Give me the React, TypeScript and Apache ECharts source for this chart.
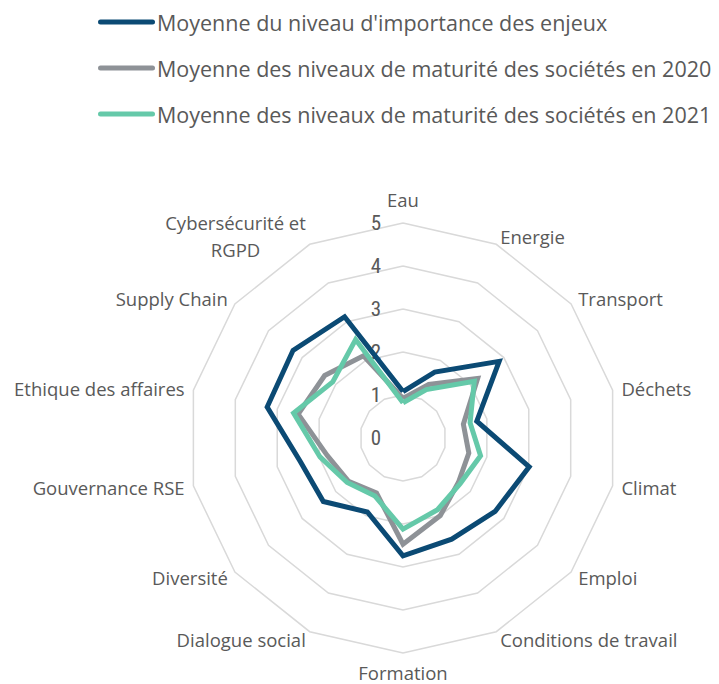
import React, { useEffect, useRef } from "react";
import * as echarts from "echarts";

// Indicators listed clockwise from the top, as in the reference
const indicatorNames = [
  "Eau",
  "Energie",
  "Transport",
  "Déchets",
  "Climat",
  "Emploi",
  "Conditions de travail",
  "Formation",
  "Dialogue social",
  "Diversité",
  "Gouvernance RSE",
  "Ethique des affaires",
  "Supply Chain",
  "Cybersécurité et RGPD",
];

const axisMin = 0;
const axisMax = 5;
const axisSplits = 5;

const seriesNames = [
  "Moyenne du niveau d'importance des enjeux",
  "Moyenne des niveaux de maturité des sociétés en 2020",
  "Moyenne des niveaux de maturité des sociétés en 2021",
];

const importance = [1.08, 1.7, 2.86, 1.76, 3.01, 2.74, 2.61, 2.74, 1.91, 2.37, 2.45, 3.24, 3.27, 3.13];
const maturity2020 = [0.92, 1.38, 2.22, 1.44, 1.57, 1.65, 2.0, 2.47, 1.42, 1.62, 1.81, 2.5, 2.33, 2.12];
const maturity2021 = [0.82, 1.25, 2.12, 1.6, 1.85, 1.7, 1.85, 2.12, 1.5, 1.66, 1.98, 2.61, 2.09, 2.54];

const seriesColors = ["#0b4a74", "#8e9297", "#65c9a9"];

// ECharts places radar indicators counter-clockwise; reorder to get clockwise layout
const n = indicatorNames.length;
const order = [0, ...Array.from({ length: n - 1 }, (_, k) => n - 1 - k)];
const reorder = <T,>(arr: T[]): T[] => order.map((i) => arr[i]);

const textGray = "#595959";
const nameFont = 18.5;

export default function App() {
  const ref = useRef<HTMLDivElement>(null);
  useEffect(() => {
    if (!ref.current) return;
    const chart = echarts.init(ref.current, undefined, { renderer: "svg" });
    const values = [importance, maturity2020, maturity2021];
    chart.setOption({
      animation: false,
      backgroundColor: "#ffffff",
      legend: {
        orient: "vertical",
        left: 93,
        top: 6,
        itemWidth: 57,
        itemHeight: 5,
        itemGap: 24,
        selectedMode: false,
        icon: "path://M2.5,0 L54.5,0 A2.5,2.5 0 0 1 54.5,5 L2.5,5 A2.5,2.5 0 0 1 2.5,0 Z",
        data: seriesNames,
        textStyle: { color: textGray, fontFamily: "Open Sans", fontSize: 21.5, padding: [0, 0, 0, -3] },
      },
      radar: {
        center: [403, 438],
        radius: 215,
        startAngle: 90,
        splitNumber: axisSplits,
        shape: "polygon",
        nameGap: 9,
        axisName: {
          color: textGray,
          fontFamily: "Open Sans",
          fontSize: nameFont,
          formatter: (v: string) =>
            v === "Cybersécurité et RGPD" ? "{c|Cybersécurité et}\n{c|RGPD}" : v,
          rich: {
            c: { align: "center", color: textGray, fontFamily: "Open Sans", fontSize: nameFont, lineHeight: 27 },
          },
        },
        splitLine: { lineStyle: { color: "#d9d9d9", width: 1.5 } },
        splitArea: { show: false },
        axisLine: { show: false },
        axisTick: { show: false },
        indicator: reorder(indicatorNames).map((name, k) => ({
          name,
          min: axisMin,
          max: axisMax,
          ...(name === "Eau" ? { nameGap: 14 } : {}),
          ...(name === "Formation" ? { nameGap: 10 } : {}),
          ...(k === 0
            ? {
                axisLabel: {
                  show: true,
                  showMinLabel: true,
                  showMaxLabel: true,
                  margin: 22,
                  color: textGray,
                  fontFamily: "Liberation Sans Narrow, Roboto Condensed, Arial Narrow, sans-serif",
                  fontSize: 21,
                },
              }
            : {}),
        })),
      },
      series: seriesNames.map((name, s) => ({
        type: "radar",
        name,
        symbol: "none",
        color: seriesColors[s],
        itemStyle: { color: seriesColors[s] },
        lineStyle: { color: seriesColors[s], width: 5, join: "miter" },
        z: 2 + s,
        data: [{ name, value: reorder(values[s]) }],
      })),
    });
    return () => chart.dispose();
  }, []);
  return (
    <div
      ref={ref}
      style={{ position: "absolute", left: 0, top: 0, width: 719, height: 684 }}
    />
  );
}
